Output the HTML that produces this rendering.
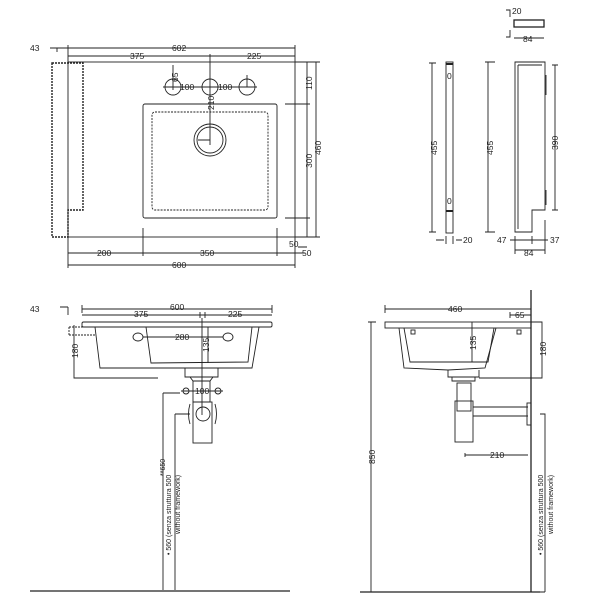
<!DOCTYPE html>
<html><head><meta charset="utf-8"><style>
html,body{margin:0;padding:0;background:#fff;}
svg{display:block;}
text{font-family:"Liberation Sans",sans-serif;font-size:8.5px;fill:#222;}
text.s{font-size:7px;}
</style></head><body>
<svg width="600" height="600" viewBox="0 0 600 600" xmlns="http://www.w3.org/2000/svg" stroke="#222" fill="none" stroke-width="0.9">
<rect x="68" y="62" width="227" height="175"/>
<path d="M52 63 H83 V210 H68 V237 H52 Z" stroke-dasharray="2,1" stroke-width="1.4"/>
<rect x="143" y="104" width="134" height="114" rx="2"/>
<rect x="152" y="112" width="116" height="98" rx="3" stroke-dasharray="2,1.2"/>
<circle cx="210" cy="140" r="16"/><circle cx="210" cy="140" r="13"/>
<path d="M210 90 V145 M198 140 H210"/>
<circle cx="173" cy="87" r="8"/><circle cx="210" cy="87" r="8"/><circle cx="247" cy="87" r="8"/>
<path d="M163 87 H257 M173 65 V90 M247 75 V87"/>
<path d="M50 48 H295 M68 45 V62 M295 45 V62 M68 56 H295 M210 54 V90 M57 48 V52"/>
<text x="30" y="51" stroke="none">43</text>
<text x="172" y="51" stroke="none">602</text>
<text x="130" y="59" stroke="none">375</text>
<text x="247" y="59" stroke="none">225</text>
<text x="180" y="90" stroke="none">100</text>
<text x="218" y="90" stroke="none">100</text>
<text x="0" y="0" stroke="none" transform="translate(178,82) rotate(-90)">65</text>
<text x="0" y="0" stroke="none" transform="translate(214,110) rotate(-90)">210</text>
<path d="M285 104 H310 M285 218 H310 M307 62 V237 M316 62 V237 M295 62 H320 M295 237 H320 M298 247 H307"/>
<text x="0" y="0" stroke="none" transform="translate(312,90) rotate(-90)">110</text>
<text x="0" y="0" stroke="none" transform="translate(312,168) rotate(-90)">300</text>
<text x="0" y="0" stroke="none" transform="translate(321,155) rotate(-90)">460</text>
<text x="289" y="247" stroke="none">50</text>
<text x="302" y="256" stroke="none">50</text>
<path d="M68 253 H305 M68 265 H295 M143 228 V256 M277 228 V256 M68 237 V268 M295 237 V268"/>
<text x="97" y="256" stroke="none">200</text>
<text x="200" y="256" stroke="none">350</text>
<text x="172" y="268" stroke="none">600</text>

<rect x="514" y="20" width="30" height="7" stroke-width="1.3"/>
<path d="M506 10 H510 V17 M506 37 H510 V30 M514 38 H544"/>
<text x="512" y="14" stroke="none">20</text>
<text x="523" y="42" stroke="none">84</text>
<rect x="446" y="62" width="7" height="171"/>
<path d="M446 64 H453 M446 211 H453" stroke-width="2"/>
<text x="447" y="79" stroke="none" font-size="7">0</text>
<text x="447" y="204" stroke="none" font-size="7">0</text>
<path d="M432 63 V232 M429 63 H436 M429 232 H436 M436 240 H444 M456 240 H462 M446 236 V244 M453 236 V244"/>
<text x="0" y="0" stroke="none" transform="translate(437,155) rotate(-90)">455</text>
<text x="463" y="243" stroke="none">20</text>
<path d="M515 62 H545 V210 H532 V232 H515 Z M518 65 H542 M518 65 V229"/>
<path d="M488 62 V232 M485 62 H495 M485 232 H495 M555 65 V210 M552 65 H558 M552 210 H558 M546 75 V95 M546 190 V205"/>
<text x="0" y="0" stroke="none" transform="translate(493,155) rotate(-90)">455</text>
<text x="0" y="0" stroke="none" transform="translate(558,150) rotate(-90)">390</text>
<path d="M510 240 H548 M515 236 V254 M545 220 V254 M515 250 H545 M532 236 V244"/>
<text x="497" y="243" stroke="none">47</text>
<text x="550" y="243" stroke="none">37</text>
<text x="524" y="256" stroke="none">84</text>

<path d="M82 309 H272 M82 305 V313 M272 305 V313 M82 315 H272 M200 312 V318 M205 312 V318"/>
<text x="30" y="312" stroke="none">43</text>
<text x="170" y="310" stroke="none">600</text>
<text x="134" y="317" stroke="none">375</text>
<text x="228" y="317" stroke="none">225</text>
<path d="M68 307 V315 M60 307 H68"/>
<rect x="82" y="322" width="190" height="5" rx="1.5"/>
<path d="M69 327 H95 M69 335 H95 M69 327 V335" stroke-dasharray="2,1"/>
<path d="M95 327 L100 368 L252 368 L259 327"/>
<path d="M146 327 L151 363 L248 362 L252 327"/>
<path d="M185 368 V377 H218 V368 M190 377 L193 381 H210 L213 377"/>
<path d="M202 318 V415"/>
<ellipse cx="138" cy="337" rx="5" ry="4"/><ellipse cx="228" cy="337" rx="5" ry="4"/>
<path d="M143 337 H223 M208 327 V363"/>
<text x="175" y="340" stroke="none">280</text>
<text x="0" y="0" stroke="none" transform="translate(209,352) rotate(-90)">135</text>
<path d="M74 325 V378 H158"/>
<text x="0" y="0" stroke="none" transform="translate(78,358) rotate(-90)">180</text>
<rect x="193" y="381" width="17" height="21"/>
<circle cx="186" cy="391" r="3"/><circle cx="218" cy="391" r="3"/>
<path d="M181 391 H223"/>
<text x="195" y="394" stroke="none">100</text>
<rect x="193" y="402" width="19" height="41"/>
<path d="M190 404 Q187 414 190 424 M215 404 Q218 414 215 424"/>
<circle cx="203" cy="414" r="7"/>
<path d="M163 393 H180 M163 393 V590 M175 414 H190 M175 414 V590"/>
<text class="s" x="0" y="0" stroke="none" transform="translate(171,555) rotate(-90)">• 560 (senza struttura 500</text>
<text class="s" x="0" y="0" stroke="none" transform="translate(180,534) rotate(-90)">without framework)</text>
<text class="s" x="0" y="0" stroke="none" transform="translate(165,476) rotate(-90)">**650</text>
<path d="M30 591 H290" stroke-width="1.3"/>

<path d="M531 290 V592" stroke-width="1.3"/>
<path d="M360 592 H540" stroke-width="1.3"/>
<path d="M385 309 H531 M385 305 V313 M510 315 H531 M510 312 V318"/>
<text x="448" y="312" stroke="none">460</text>
<text x="515" y="318" stroke="none">65</text>
<rect x="385" y="322" width="146" height="6"/>
<rect x="411" y="330" width="4" height="4"/><rect x="517" y="330" width="4" height="4"/>
<path d="M399 328 L404 368 L448 370 L485 368 L496 328"/>
<path d="M404 328 L410 362 L488 362 L494 328"/>
<path d="M448 370 V377 H479 V370 M452 377 V381 H475 V377"/>
<path d="M472 322 V362"/>
<text x="0" y="0" stroke="none" transform="translate(476,350) rotate(-90)">135</text>
<path d="M531 322 H542 V378 H531 M479 378 H531"/>
<text x="0" y="0" stroke="none" transform="translate(546,356) rotate(-90)">180</text>
<rect x="457" y="383" width="14" height="28"/>
<rect x="455" y="401" width="18" height="41"/>
<path d="M473 407 H528 M473 416 H528"/>
<rect x="527" y="403" width="4" height="22"/>
<path d="M371 322 V592 M368 322 H376 M368 592 H376"/>
<text x="0" y="0" stroke="none" transform="translate(375,464) rotate(-90)">850</text>
<path d="M465 453 V457 M465 455 H528"/>
<text x="490" y="458" stroke="none">210</text>
<path d="M540 414 H545 V592 M540 592 H545"/>
<text class="s" x="0" y="0" stroke="none" transform="translate(543,555) rotate(-90)">• 560 (senza struttura 500</text>
<text class="s" x="0" y="0" stroke="none" transform="translate(553,534) rotate(-90)">without framework)</text>
</svg>
</body></html>
